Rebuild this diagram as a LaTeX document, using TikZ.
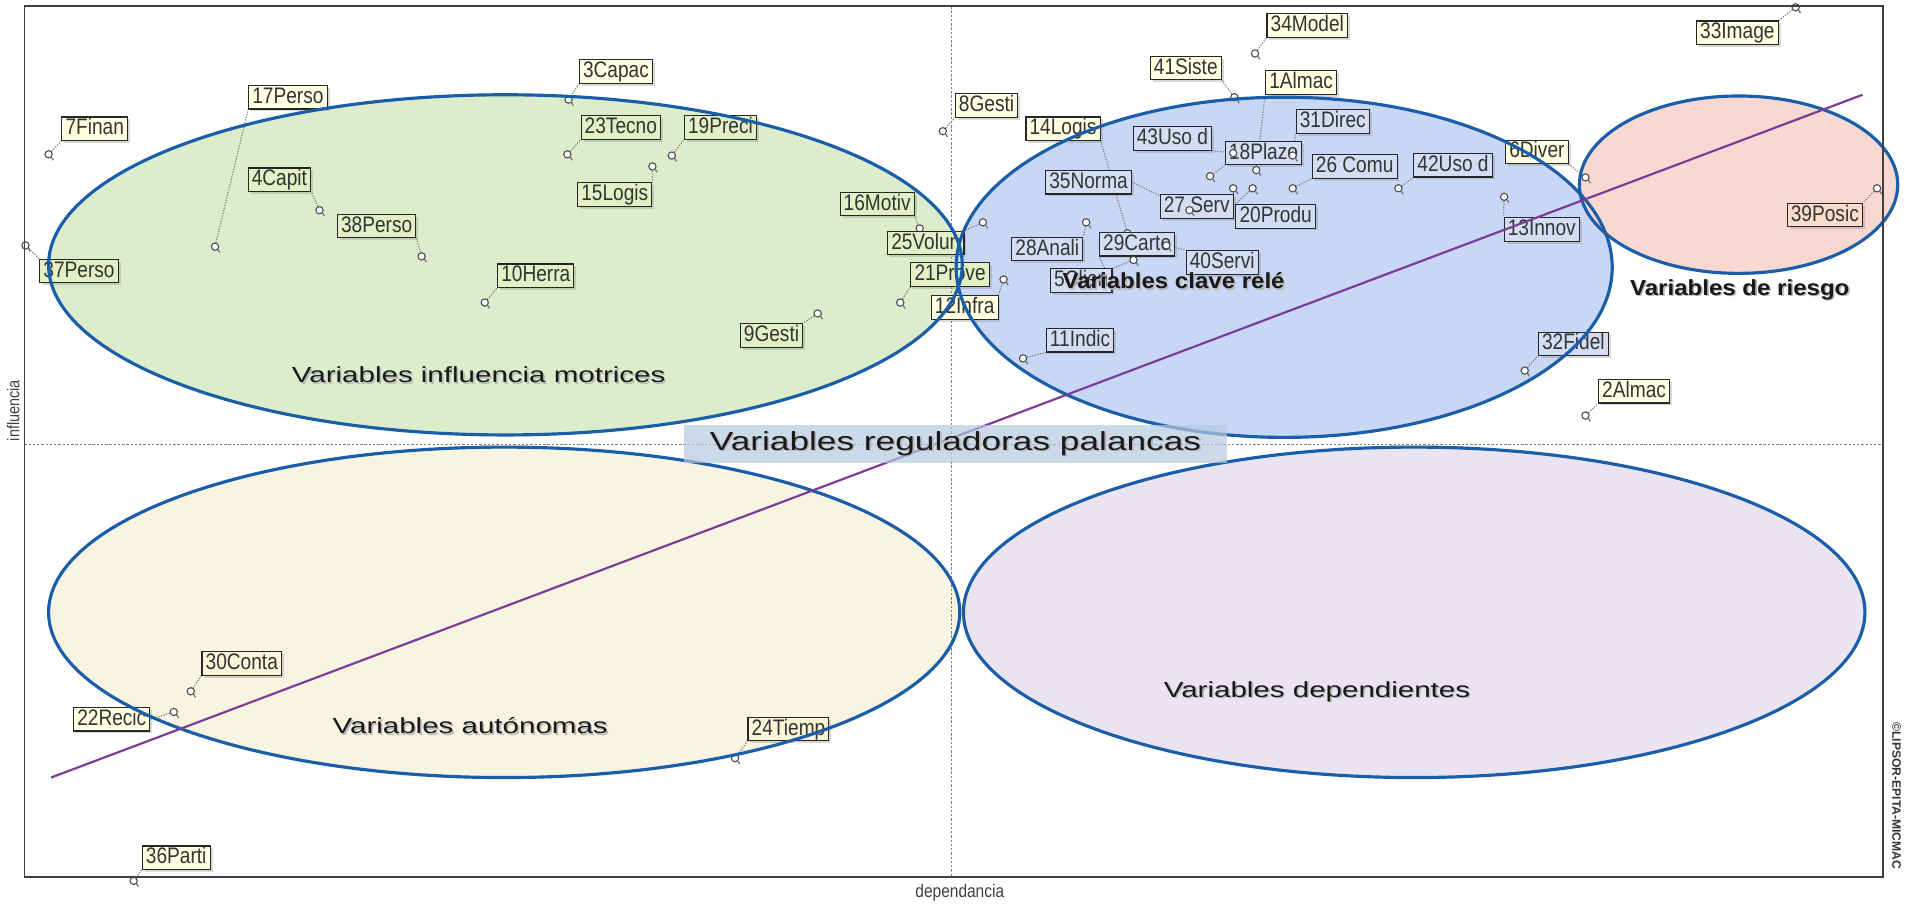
\documentclass[tikz,border=0pt]{standalone}
\usepackage{fontspec}
\setmainfont{Liberation Sans}
\newfontfamily\lblfont[FakeStretch=0.85]{Liberation Sans}
\newfontfamily\widefont[FakeStretch=1.35]{Liberation Sans}
\newfontfamily\semifont[FakeStretch=1.1]{Liberation Sans}
\usetikzlibrary{shadows}
\pgfdeclarelayer{fills}
\pgfdeclarelayer{leaders}
\pgfsetlayers{fills,leaders,main}

% zone fills
\definecolor{elG}{HTML}{DCEDCB}
\definecolor{elB}{HTML}{C9D7F7}
\definecolor{elP}{HTML}{F9D8D2}
\definecolor{elY}{HTML}{F7F4E2}
\definecolor{elL}{HTML}{EAE4F2}
\definecolor{ringblue}{HTML}{1A5DA8}
\definecolor{trendpurple}{HTML}{7D3C98}
\definecolor{regfill}{HTML}{B5C9E0}
% label box fills
\definecolor{boxW}{HTML}{FFFFE1}
\definecolor{boxG}{HTML}{E2F0C6}
\definecolor{boxB}{HTML}{D3DEF5}
\definecolor{boxP}{HTML}{FADCCB}
\definecolor{boxY}{HTML}{F9F6D8}

% text with a soft offset shadow
\newcommand{\shadowed}[1]{\leavevmode\rlap{\kern1.3pt\raisebox{-1.3pt}{\color{black!28}#1}}#1}

% one plotted variable: id, label, label position, point position, box style, label corner
\newcommand{\plotvar}[6]{%
  \node[pt] (p#1) at (#4) {};
  \node[#5] (v#1) at (#3) {#2};
  \begin{pgfonlayer}{leaders}\draw[leader] (p#1) -- (v#1.#6);\end{pgfonlayer}}

\begin{document}
\begin{tikzpicture}[x=1pt,y=-1pt,
  lbl/.style={draw=black!85, line width=0.9pt, inner xsep=3pt, inner ysep=1.2pt,
    text height=13.5pt, text depth=3.5pt, font=\lblfont\fontsize{18.5}{18.5}\selectfont,
    text=black!80, drop shadow={shadow xshift=2pt, shadow yshift=-2pt, opacity=0.3}},
  bw/.style={lbl, fill=boxW},
  bg/.style={lbl, fill=boxG},
  bb/.style={lbl, fill=boxB},
  bp/.style={lbl, fill=boxP},
  by/.style={lbl, fill=boxY},
  pt/.style={circle, draw=black!70, fill=white, line width=0.9pt, minimum size=6pt, inner sep=0pt,
    append after command={(\tikzlastnode.south east) edge[draw=black!50, line width=1.2pt] +(1.5pt,-2.4pt)}},
  leader/.style={draw=black!50, line width=1pt, dash pattern=on 1pt off 1.2pt},
  ring/.style={draw=ringblue, line width=2.6pt},
  axisline/.style={draw=black!50, line width=0.8pt, dash pattern=on 2pt off 1.5pt},
  zonetxt/.style={font=\widefont\fontsize{18}{18}\selectfont, text=black!90, inner sep=0pt},
  zonebold/.style={font=\semifont\bfseries\fontsize{18}{18}\selectfont, text=black!90, inner sep=0pt},
]
\useasboundingbox (0,0) rectangle (1568,745);

% background, zone fills and quadrant axes
\begin{pgfonlayer}{fills}
  \fill[white] (0,0) rectangle (1568,745);
  \fill[elG] (416,218) ellipse [x radius=376pt, y radius=140pt];
  \fill[elB] (1057,220) ellipse [x radius=270pt, y radius=140pt];
  \fill[elP] (1431,152) ellipse [x radius=131pt, y radius=73pt];
  \fill[elY] (415,504) ellipse [x radius=375pt, y radius=136pt];
  \fill[elL] (1164,504) ellipse [x radius=371pt, y radius=136pt];
  \coordinate (vt) at (783,5);
  \coordinate (vb) at (783,722);
  \coordinate (hl) at (20,366);
  \coordinate (hr) at (1550,366);
  \draw[axisline] (vt) -- (vb);
  \draw[axisline] (hl) -- (hr);
\end{pgfonlayer}

% plotted variables
\plotvar{7}{7Finan}{78,106}{40,127}{bw}{south west}
\plotvar{17}{17Perso}{237,80}{177,203}{bw}{south west}
\plotvar{3}{3Capac}{507,59}{468,82}{bw}{south west}
\plotvar{23}{23Tecno}{511,105}{467,127}{bg}{south west}
\plotvar{19}{19Preci}{593,105}{553,128}{bg}{south west}
\plotvar{15}{15Logis}{506,160}{537,137}{bg}{north east}
\plotvar{4}{4Capit}{230,148}{263,173}{bg}{south east}
\plotvar{38}{38Perso}{310,186}{347,211}{bg}{south east}
\plotvar{37}{37Perso}{65,223}{21,202}{bg}{north west}
\plotvar{10}{10Herra}{441,227}{399,249}{bg}{south west}
\plotvar{16}{16Motiv}{722,168}{757,188}{bg}{south east}
\plotvar{25}{25Volun}{762,200}{809,183}{bg}{north east}
\plotvar{21}{21Prove}{782,226}{741,249}{bg}{south west}
\plotvar{12}{12Infra}{794,253}{826,230}{bw}{north east}
\plotvar{9}{9Gesti}{635,276}{673,258}{bg}{north east}
\plotvar{8}{8Gesti}{812,87}{776,108}{bw}{south west}
\plotvar{14}{14Logis}{875,106}{928,192}{bw}{south east}
\plotvar{1}{1Almac}{1071,68}{1034,140}{bw}{south west}
\plotvar{18}{18Plazo}{1040,126}{996,145}{bb}{south west}
\plotvar{43}{43Uso d}{965,114}{1015,126}{bb}{south east}
\plotvar{31}{31Direc}{1097,100}{1064,128}{bb}{south west}
\plotvar{27}{27 Serv}{985,170}{1015,155}{bb}{north east}
\plotvar{35}{35Norma}{896,150}{979,173}{bb}{east}
\plotvar{29}{29Carte}{936,201}{912,226}{bb}{south west}
\plotvar{5}{5Clien}{890,231}{933,214}{bb}{north east}
\plotvar{40}{40Servi}{1006,216}{960,202}{bb}{north west}
\plotvar{28}{28Anali}{862,205}{894,183}{bb}{north east}
\plotvar{20}{20Produ}{1050,178}{1031,155}{bb}{north west}
\plotvar{26}{26 Comu}{1115,137}{1064,155}{bb}{south west}
\plotvar{42}{42Uso d}{1196,136}{1151,155}{bb}{south west}
\plotvar{11}{11Indic}{889,280}{842,295}{bb}{south west}
\plotvar{41}{41Siste}{976,56}{1016,80}{bw}{south east}
\plotvar{34}{34Model}{1076,21}{1033,44}{bw}{south west}
\plotvar{6}{6Diver}{1265,125}{1305,146}{bw}{south east}
\plotvar{13}{13Innov}{1269,189}{1238,162}{bb}{north west}
\plotvar{32}{32Fidel}{1295,283}{1255,305}{bb}{south west}
\plotvar{2}{2Almac}{1345,322}{1305,342}{bw}{south west}
\plotvar{39}{39Posic}{1502,177}{1545,155}{bp}{north east}
\plotvar{33}{33Image}{1430,27}{1478,6}{bw}{north east}
\plotvar{30}{30Conta}{199,546}{157,569}{by}{south west}
\plotvar{22}{22Recic}{92,592}{143,586}{bw}{east}
\plotvar{24}{24Tiemp}{649,600}{605,624}{by}{south west}
\plotvar{36}{36Parti}{145,706}{110,725}{bw}{south west}

% zone outlines
\draw[ring] (416,218) ellipse [x radius=376pt, y radius=140pt];
\draw[ring] (1057,220) ellipse [x radius=270pt, y radius=140pt];
\draw[ring] (1431,152) ellipse [x radius=131pt, y radius=73pt];
\draw[ring] (415,504) ellipse [x radius=375pt, y radius=136pt];
\draw[ring] (1164,504) ellipse [x radius=371pt, y radius=136pt];

% diagonal trend line
\coordinate (ls) at (42,640);
\coordinate (le) at (1533,78);
\draw[draw=trendpurple, line width=1.8pt] (ls) -- (le);

% regulating-variables banner
\node[fill=regfill, fill opacity=0.7, text opacity=1, minimum width=447pt, minimum height=31pt,
  inner sep=0pt, font=\widefont\fontsize{21.5}{21.5}\selectfont, text=black!90] (reg) at (786.5,365.5)
  {\shadowed{Variables reguladoras palancas}};

% zone names
\node[zonetxt] (zm) at (394,309) {\shadowed{Variables influencia motrices}};
\node[zonebold] (zc) at (966,232) {\shadowed{Variables clave relé}};
\node[zonebold] (zr) at (1432,239) {\shadowed{Variables de riesgo}};
\node[zonetxt] (za) at (387,598) {\shadowed{Variables autónomas}};
\node[zonetxt] (zd) at (1084,570) {\shadowed{Variables dependientes}};

% frame and axis titles
\coordinate (fa) at (20,5);
\coordinate (fb) at (1550,722);
\draw[draw=black!75, line width=1.2pt] (fa) rectangle (fb);
\node[rotate=90, font=\lblfont\fontsize{14}{14}\selectfont, text=black!75, inner sep=0pt] (ax1) at (11,338) {influencia};
\node[font=\lblfont\fontsize{15}{15}\selectfont, text=black!75, inner sep=0pt] (ax2) at (790,735) {dependancia};
\node[rotate=-90, font=\bfseries\fontsize{10}{10}\selectfont, text=black!80, inner sep=0pt] (cp) at (1561,655) {©LIPSOR-EPITA-MICMAC};
\end{tikzpicture}
\end{document}
